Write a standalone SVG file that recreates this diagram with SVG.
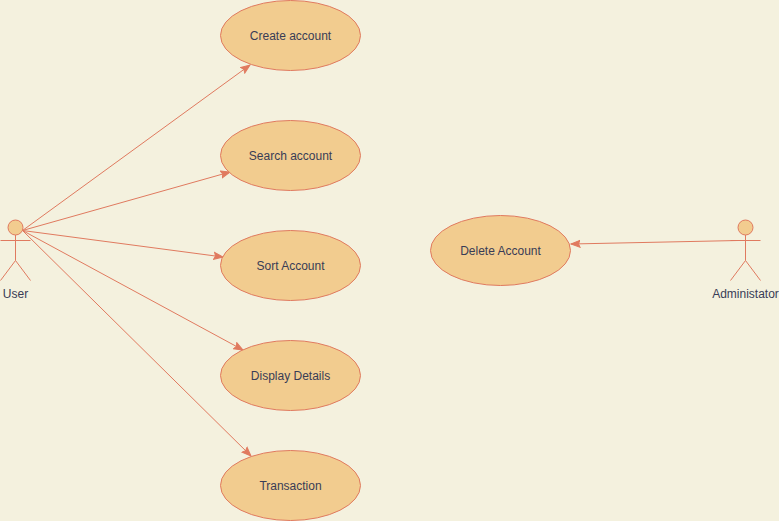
<svg xmlns="http://www.w3.org/2000/svg" width="779" height="521" viewBox="0 0 779 521">
<style>
.bg{fill:#f4f1de}
.uc{fill:#f2cc8f;stroke:#e07a5f;stroke-width:1}
.line{fill:none;stroke:#e07a5f;stroke-width:1}
.t{font-family:"Liberation Sans",Arial,sans-serif;font-size:12px;fill:#393c56;text-anchor:middle}
</style>
<defs>
<marker id="arrow" markerUnits="userSpaceOnUse" markerWidth="11" markerHeight="9" refX="9.500" refY="4" orient="auto" viewBox="0 0 11 8">
<path d="M0.500 0.500L9.500 4L0.500 7.500L2 4Z" fill="#e07a5f" stroke="#e07a5f" stroke-width="1"/>
</marker>
</defs>
<rect class="bg" width="779" height="521"/>
<g id="connectors">
<line class="line" marker-end="url(#arrow)" x1="22.500" y1="230.500" x2="250" y2="65"/>
<line class="line" marker-end="url(#arrow)" x1="22.500" y1="230.500" x2="230" y2="172"/>
<line class="line" marker-end="url(#arrow)" x1="22.500" y1="230.500" x2="223" y2="257"/>
<line class="line" marker-end="url(#arrow)" x1="22.500" y1="230.500" x2="243" y2="350"/>
<line class="line" marker-end="url(#arrow)" x1="22.500" y1="230.500" x2="251" y2="456"/>
<line class="line" marker-end="url(#arrow)" x1="738" y1="240.500" x2="571" y2="244"/>
</g>
<g id="user">
<circle class="uc" cx="15.500" cy="227.500" r="7.500"/>
<path class="line" d="M15.500 235V260.500M0.500 240.500H30.500M15.500 260.500L0.500 280.500M15.500 260.500L30.500 280.500"/>
<text class="t" x="15.500" y="298">User</text>
</g>
<g id="administator">
<circle class="uc" cx="745.500" cy="227.500" r="7.500"/>
<path class="line" d="M745.500 235V260.500M730.500 240.500H760.500M745.500 260.500L730.500 280.500M745.500 260.500L760.500 280.500"/>
<text class="t" x="745.500" y="298">Administator</text>
</g>
<g id="create-account"><ellipse class="uc" cx="290.500" cy="35.500" rx="70" ry="35"/><text class="t" x="290.500" y="40">Create account</text></g>
<g id="search-account"><ellipse class="uc" cx="290.500" cy="155.500" rx="70" ry="35"/><text class="t" x="290.500" y="160">Search account</text></g>
<g id="sort-account"><ellipse class="uc" cx="290.500" cy="265.500" rx="70" ry="35"/><text class="t" x="290.500" y="270">Sort Account</text></g>
<g id="display-details"><ellipse class="uc" cx="290.500" cy="375.500" rx="70" ry="35"/><text class="t" x="290.500" y="380">Display Details</text></g>
<g id="transaction"><ellipse class="uc" cx="290.500" cy="485.500" rx="70" ry="35"/><text class="t" x="290.500" y="490">Transaction</text></g>
<g id="delete-account"><ellipse class="uc" cx="500.500" cy="250.500" rx="70" ry="35"/><text class="t" x="500.500" y="255">Delete Account</text></g>
</svg>
